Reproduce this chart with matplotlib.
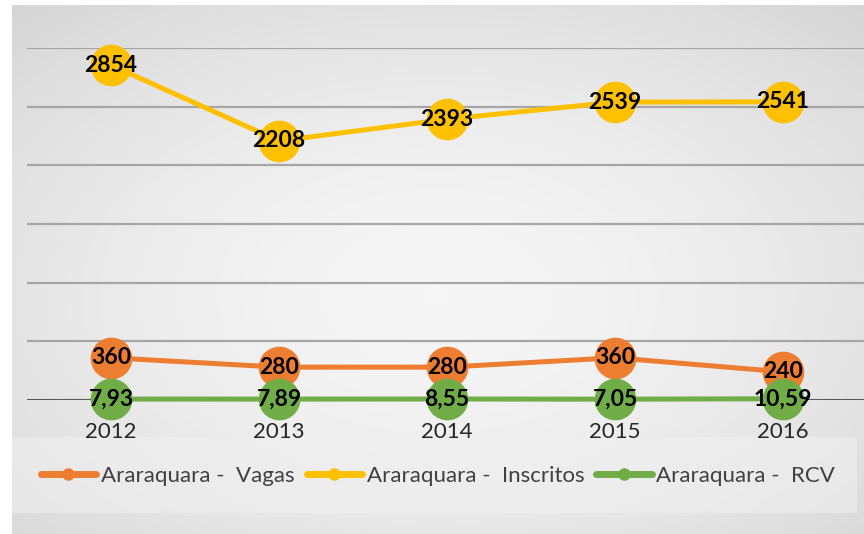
import numpy as np
import matplotlib
matplotlib.use("Agg")
import matplotlib.pyplot as plt
from matplotlib.patches import Rectangle

plt.rcParams['font.family'] = ['Lato', 'DejaVu Sans']

years = ['2012', '2013', '2014', '2015', '2016']
vagas = [360, 280, 280, 360, 240]
inscritos = [2854, 2208, 2393, 2539, 2541]
rcv = [7.93, 7.89, 8.55, 7.05, 10.59]
rcv_labels = ['7,93', '7,89', '8,55', '7,05', '10,59']
series_names = ['Araraquara -  Vagas', 'Araraquara -  Inscritos', 'Araraquara -  RCV']
colors = ['#ED7D31', '#FFC000', '#70AD47']

W, H = 864, 534
fig = plt.figure(figsize=(W / 100, H / 100), dpi=100)
fig.patch.set_facecolor('white')

# background gradient of chart area
bg = fig.add_axes([12 / W, 0, 1 - 12 / W, 1 - 5 / H], zorder=-10)
yy, xx = np.mgrid[0:1:200j, 0:1:300j]
r = np.sqrt(((xx - 0.5) / 0.75) ** 2 + ((yy - 0.45) / 0.75) ** 2)
vals = 0.965 - 0.13 * r ** 1.6
bg.imshow(np.dstack([vals] * 3), aspect='auto', extent=[0, 1, 0, 1], origin='lower')
bg.set_axis_off()

# legend box
fig.patches.append(Rectangle((12 / W, (H - 513) / H), (857 - 12) / W, (513 - 437) / H,
                             transform=fig.transFigure, facecolor='#f0f0f0', alpha=0.6,
                             edgecolor='none', zorder=-5))

ax = fig.add_axes([27 / W, (H - 400) / H, 840 / W, (400 - 48) / H])
ax.patch.set_alpha(0)
x = np.arange(len(years))
ms = 29
lw = 3.6

ax.set_xlim(-0.5, 4.5)
ax.set_ylim(0, 3000)
ax.set_yticks(np.arange(0, 3001, 500))
ax.yaxis.grid(True, color='#a6a6a6', lw=1.6)
ax.set_axisbelow(True)
ax.axhline(0, color='#404040', lw=1.8, zorder=1)
for s in ax.spines.values():
    s.set_visible(False)
ax.set_yticklabels([])
ax.tick_params(axis='y', length=0)
ax.set_xticks(x)
ax.set_xticklabels(years, fontsize=16, color='#262626')
ax.tick_params(axis='x', length=0, pad=16)

handles = []
for vals_, c, name in zip([vagas, inscritos, rcv], colors, series_names):
    ax.plot(x, vals_, color=c, lw=lw, marker='o', ms=ms, mec=c, mfc=c,
            clip_on=False, zorder=3, solid_capstyle='round')
    h, = ax.plot([], [], color=c, lw=5, marker='o', ms=8, mec=c, mfc=c,
                 solid_capstyle='round', label=name)
    handles.append(h)

lab_kw = dict(ha='center', va='center', fontsize=16.5, fontweight='bold', color='black',
              zorder=6, clip_on=False)
for xi, v in zip(x, vagas):
    ax.text(xi, v, str(v), **lab_kw)
for xi, v in zip(x, inscritos):
    ax.text(xi, v, str(v), **lab_kw)
for xi, v, t in zip(x, rcv, rcv_labels):
    ax.text(xi, v, t, **lab_kw)

fig.legend(handles=handles, loc='center', bbox_to_anchor=(438 / W, (H - 476) / H),
           ncol=3, frameon=False, fontsize=16, handlelength=2.5, handletextpad=0.2,
           columnspacing=0.55, labelcolor='#404040')

fig.savefig('out.png', dpi=100)
